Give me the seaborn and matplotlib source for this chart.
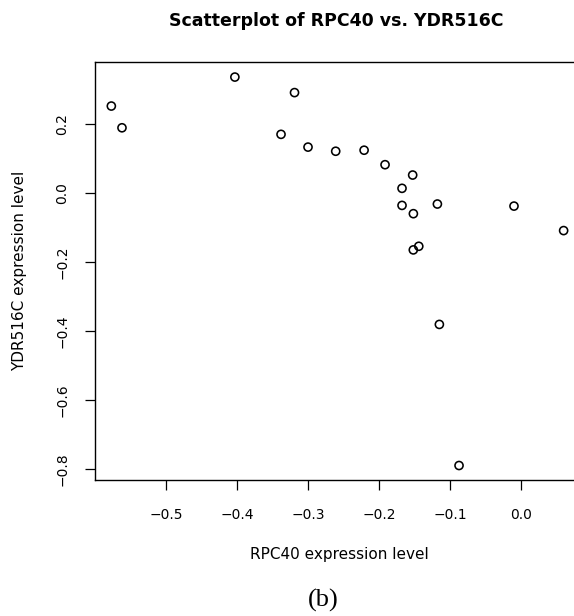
import matplotlib
matplotlib.use("Agg")
import matplotlib.pyplot as plt
import seaborn as sns
import pandas as pd

# Data
rpc40 = [-0.577, -0.562, -0.403, -0.338, -0.319, -0.300, -0.261, -0.221,
         -0.1915, -0.1526, -0.1676, -0.1676, -0.1516, -0.1178, -0.0099,
         0.060, -0.1517, -0.144, -0.115, -0.0873]
ydr516c = [0.252, 0.189, 0.336, 0.170, 0.291, 0.133, 0.121, 0.124,
           0.082, 0.052, 0.0135, -0.036, -0.060, -0.032, -0.038,
           -0.109, -0.165, -0.1545, -0.381, -0.790]
x_ticks = [-0.5, -0.4, -0.3, -0.2, -0.1, 0.0]
y_ticks = [-0.8, -0.6, -0.4, -0.2, 0.0, 0.2]

title = "Scatterplot of RPC40 vs. YDR516C"
x_label = "RPC40 expression level"
y_label = "YDR516C expression level"
caption = "(b)"

df = pd.DataFrame({"RPC40": rpc40, "YDR516C": ydr516c})

sns.set_style("ticks")
plt.rcParams["font.family"] = ["DejaVu Sans"]

W, H = 574, 616
fig = plt.figure(figsize=(W / 100, H / 100), dpi=100)
fig.patch.set_facecolor("white")

left, right, top, bottom = 95, 584, 62, 480
ax = fig.add_axes([left / W, 1 - bottom / H, (right - left) / W, (bottom - top) / H])
ax.set_facecolor("white")

sns.scatterplot(data=df, x="RPC40", y="YDR516C", ax=ax, marker="o", s=34,
                facecolor="none", edgecolor="black", linewidth=1.15)

ax.set_xlim(-0.600, 0.0887)
ax.set_ylim(-0.832, 0.3797)
ax.set_xticks(x_ticks)
ax.set_yticks(y_ticks)
ax.set_xticklabels([f"{v:.1f}".replace("-", "\u2212") for v in x_ticks])
ax.set_yticklabels([f"{v:.1f}".replace("-", "\u2212") for v in y_ticks])

for sp in ax.spines.values():
    sp.set_visible(True)
    sp.set_linewidth(1.0)
    sp.set_color("black")

ax.tick_params(axis="both", direction="out", length=7.5, width=0.9,
               color="black", labelsize=10, labelcolor="black")
ax.tick_params(axis="x", pad=13)
ax.tick_params(axis="y", pad=11, labelrotation=90)
for lab in ax.get_yticklabels():
    lab.set_va("center")

ax.set_xlabel(x_label, fontsize=11, color="black")
ax.xaxis.label.set_va("center")
ax.xaxis.set_label_coords((339 - left) / (right - left), (bottom - 554) / (bottom - top))
ax.set_ylabel(y_label, fontsize=11, color="black")
ax.yaxis.label.set_va("center")
ax.yaxis.set_label_coords((20 - left) / (right - left), 0.5)

fig.text(336 / W, 1 - 26 / H, title, ha="center", va="baseline",
         fontsize=12.5, fontweight="bold", color="black")
fig.text(323 / W, 1 - 600 / H, caption, ha="center", va="center",
         fontsize=19, family=["Liberation Serif", "DejaVu Serif"], color="black")

fig.savefig("out.png", dpi=100, facecolor="white")
